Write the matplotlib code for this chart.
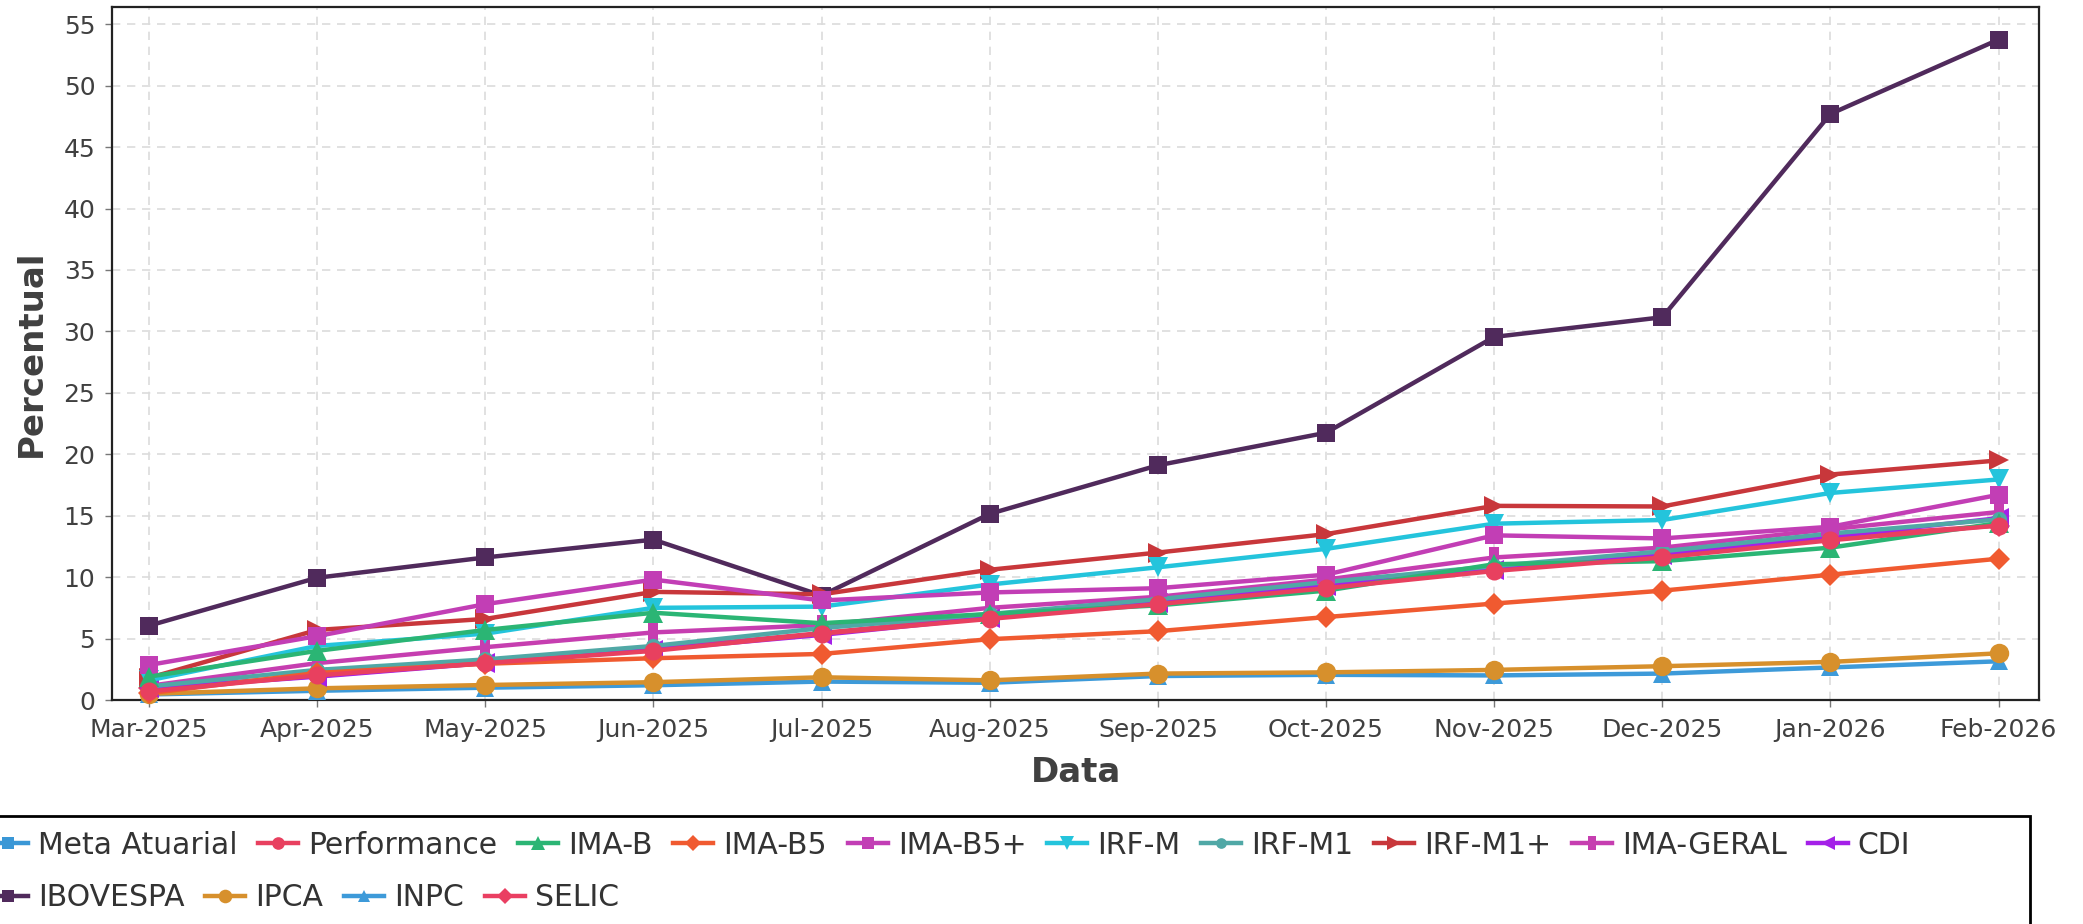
import numpy as np
import matplotlib
matplotlib.use("Agg")
import matplotlib.pyplot as plt
from matplotlib.lines import Line2D
from matplotlib.patches import Rectangle

plt.rcParams['font.family'] = ['DejaVu Sans']

months = ["Mar-2025", "Apr-2025", "May-2025", "Jun-2025", "Jul-2025", "Aug-2025",
          "Sep-2025", "Oct-2025", "Nov-2025", "Dec-2025", "Jan-2026", "Feb-2026"]

nan = np.nan
meta_atuarial = [nan] * 12
performance = [0.7, 2.0, 3.0, 4.0, 5.4, 6.6, 7.8, 9.1, 10.5, 11.6, 13.0, 14.2]
ima_b = [1.9, 4.0, 5.7, 7.1, 6.25, 7.0, 7.7, 8.9, 11.05, 11.3, 12.4, 14.4]
ima_b5 = [0.55, 2.2, 2.95, 3.4, 3.75, 4.95, 5.6, 6.75, 7.85, 8.9, 10.2, 11.5]
ima_b5p = [2.85, 5.2, 7.8, 9.8, 8.1, 8.75, 9.1, 10.2, 13.4, 13.15, 14.1, 16.7]
irf_m = [1.6, 4.4, 5.4, 7.5, 7.6, 9.4, 10.8, 12.3, 14.35, 14.65, 16.85, 17.95]
irf_m1 = [1.1, 2.45, 3.3, 4.4, 5.85, 7.0, 8.2, 9.6, 10.9, 12.1, 13.55, 14.7]
irf_m1p = [1.8, 5.7, 6.6, 8.8, 8.6, 10.6, 12.0, 13.5, 15.8, 15.75, 18.35, 19.5]
ima_geral = [1.15, 3.0, 4.3, 5.5, 6.1, 7.5, 8.4, 9.8, 11.6, 12.4, 13.9, 15.3]
cdi = [0.95, 1.9, 3.0, 4.1, 5.3, 6.7, 7.9, 9.3, 10.6, 11.8, 13.3, 14.8]
ibovespa = [6.05, 9.95, 11.6, 13.05, 8.5, 15.15, 19.1, 21.75, 29.55, 31.15, 47.7, 53.75]
ipca = [0.5, 0.95, 1.22, 1.45, 1.85, 1.6, 2.15, 2.25, 2.45, 2.75, 3.1, 3.8]
inpc = [0.45, 0.75, 1.0, 1.2, 1.5, 1.4, 1.95, 2.05, 2.0, 2.15, 2.65, 3.15]
selic = [0.95, 1.95, 3.05, 4.15, 5.45, 6.8, 7.95, 9.35, 10.65, 11.85, 13.25, 14.2]

vrect = [(-0.5, -1), (0.5, -1), (0.5, 1), (-0.5, 1), (-0.5, -1)]

series = [
    ("Meta Atuarial", meta_atuarial, "#3a97d6", "s", 13),
    ("Performance", performance, "#e8405f", "o", 13),
    ("IMA-B", ima_b, "#2bb574", "^", 15),
    ("IMA-B5", ima_b5, "#f05a30", "D", 11),
    ("IMA-B5+", ima_b5p, "#c23eb5", "s", 13),
    ("IRF-M", irf_m, "#24c4dc", "v", 15),
    ("IRF-M1", irf_m1, "#50a8a6", "o", 11),
    ("IRF-M1+", irf_m1p, "#c8373b", ">", 15),
    ("IMA-GERAL", ima_geral, "#c63eb0", vrect, 15),
    ("CDI", cdi, "#a420e8", "<", 15),
    ("IBOVESPA", ibovespa, "#502a5c", "s", 13),
    ("IPCA", ipca, "#d7902c", "o", 14),
    ("INPC", inpc, "#3d9ad9", "^", 13),
    ("SELIC", selic, "#ea3f62", "D", 11),
]

W, H = 2083, 924
fig = plt.figure(figsize=(W / 100, H / 100), dpi=100)
ax = fig.add_axes([112 / W, (H - 700) / H, (2039 - 112) / W, (700 - 7) / H])

x = np.arange(len(months))
handles = []
n = len(series)
for i, (name, vals, col, mk, ms) in enumerate(series):
    ln, = ax.plot(x, vals, color=col, lw=3.2, marker=mk, markersize=ms,
                  markeredgewidth=0, label=name, zorder=30 - i, clip_on=False)
    handles.append(ln)

ax.set_xlim(-0.22, 11.24)
ax.set_ylim(0, 56.4)
ax.set_xticks(x)
ax.set_xticklabels(months)
ax.set_yticks(np.arange(0, 56, 5))

ax.grid(True, color="#dcdcdc", lw=1.2, linestyle=(0, (5, 4)))
ax.set_axisbelow(True)
for s in ax.spines.values():
    s.set_linewidth(1.6)
    s.set_color("#222222")

ax.tick_params(axis="both", length=5, width=1, color="#777777",
               labelcolor="#404040", labelsize=18)
ax.tick_params(axis="x", pad=8)
ax.tick_params(axis="y", pad=7)

ax.set_xlabel("Data", fontsize=24.5, fontweight="bold", color="#404040", va="center")
ax.xaxis.set_label_coords(0.5, (700 - 772) / 693)
ax.set_ylabel("Percentual", fontsize=24.5, fontweight="bold", color="#404040",
              va="center", ha="center")
ax.yaxis.set_label_coords((31 - 112) / 1927, 0.5)

common = dict(frameon=False, borderpad=0, borderaxespad=0, handlelength=1.34,
              handletextpad=0.33, columnspacing=0.7, fontsize=21.5,
              markerscale=0.7, labelcolor="#333333", loc="center left")
leg1 = fig.legend(handles=handles[:10], ncol=10,
                  bbox_to_anchor=(-12 / W, (H - 845) / H), **common)
leg2 = fig.legend(handles=handles[10:], ncol=4,
                  bbox_to_anchor=(-12 / W, (H - 898) / H), **common)

fig.patches.append(Rectangle((-10 / W, -10 / H), 2040 / W, (H - 816 + 10) / H,
                             transform=fig.transFigure, fill=False,
                             edgecolor="black", lw=2, clip_on=False))

fig.savefig("out.png", dpi=100)
